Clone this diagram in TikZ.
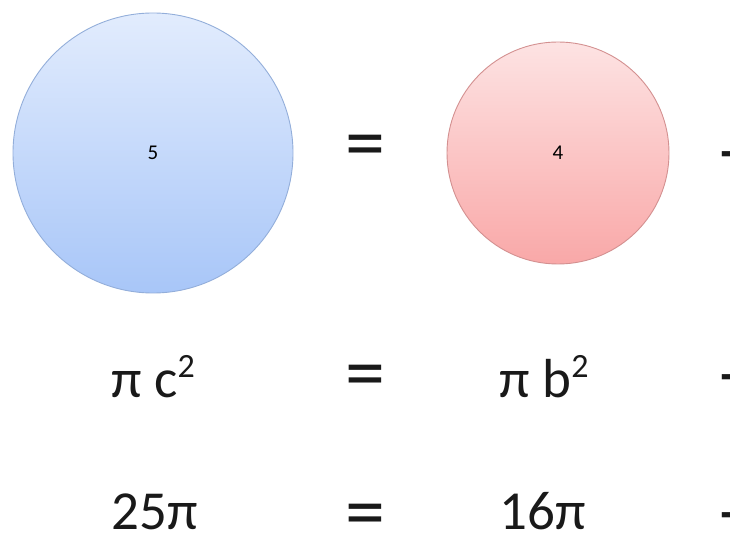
\documentclass[tikz,border=0pt]{standalone}
\usepackage{fontspec}
\setmainfont{Carlito}
\definecolor{bluetop}{HTML}{E2ECFD}
\definecolor{bluebot}{HTML}{A8C6F8}
\definecolor{blueedge}{HTML}{93AEDA}
\definecolor{redtop}{HTML}{FDE3E3}
\definecolor{redbot}{HTML}{F9A8A8}
\definecolor{rededge}{HTML}{D39090}
\newcommand{\supr}[1]{\raisebox{20pt}{\fontsize{34}{38}\selectfont #1}}
\tikzset{
  blueball/.style={circle, draw=blueedge, line width=0.9pt, top color=bluetop, bottom color=bluebot, inner sep=0pt},
  redball/.style={circle, draw=rededge, line width=0.9pt, top color=redtop, bottom color=redbot, inner sep=0pt},
  small/.style={font=\fontsize{21}{24}\selectfont, text=black},
  big/.style={font=\fontsize{55}{60}\selectfont, text=black!90, anchor=base west},
  eq/.style={font=\fontsize{80}{88}\selectfont, text=black!90},
}
\begin{document}
\begin{tikzpicture}[x=1pt,y=-1pt]
\useasboundingbox (0,0) rectangle (730,534);
\node[blueball, minimum size=280pt] (c1) at (153,153) {};
\node[small] (n5) at (c1) {5};
\node[redball, minimum size=222pt] (c2) at (558,153) {};
\node[small] (n4) at (c2) {4};
\node[eq] (e1) at (365,152) {=};
\node[eq] (p1) at (740,158) {+};
\node[big] (r2a) at (108,397) {π c\supr{2}};
\node[eq] (e2) at (365,382) {=};
\node[big] (r2b) at (496,397) {π b\supr{2}};
\node[eq] (p2) at (740,381) {+};
\node[big] (r3a) at (108,529) {25π};
\node[eq] (e3) at (365,521) {=};
\node[big] (r3b) at (496,529) {16π};
\node[eq] (p3) at (740,519) {+};
\end{tikzpicture}
\end{document}
